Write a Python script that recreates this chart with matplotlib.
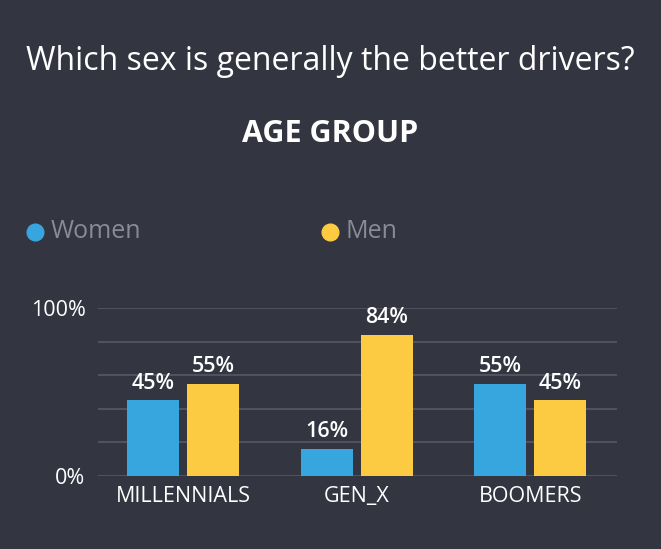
import matplotlib

matplotlib.use("Agg")
import matplotlib.pyplot as plt
import numpy as np

plt.rcParams["font.family"] = ["Open Sans", "DejaVu Sans"]

categories = ["MILLENNIALS", "GEN_X", "BOOMERS"]
women = [45, 16, 55]
men = [55, 84, 45]
series_names = ["Women", "Men"]
y_ticks = [0, 100]
y_tick_labels = ["0%", "100%"]

BG = "#333540"
BLUE = "#38A6DE"
YELLOW = "#FDCB42"
GRID = "#575966"

fig = plt.figure(figsize=(6.61, 5.49), dpi=100, facecolor=BG)
ax = fig.add_axes([98 / 661, 1 - 476 / 549, (617 - 98) / 661, (476 - 308) / 549])
ax.set_facecolor(BG)

x = np.arange(len(categories))
offset = 0.173
width = 0.3
for vals, color, dx in [(women, BLUE, -offset), (men, YELLOW, offset)]:
    bars = ax.bar(x + dx, vals, width=width, color=color, zorder=3)
    for rect, v in zip(bars, vals):
        ax.text(rect.get_x() + rect.get_width() / 2, v + 4, f"{v}%",
                ha="center", va="bottom", color="white", fontsize=15.5,
                fontweight="semibold")

ax.set_xlim(-0.49, 2.5)
ax.set_ylim(0, 100)
for g in range(0, 101, 20):
    ax.axhline(g, color=GRID, linewidth=1.2, zorder=1)
ax.set_yticks(y_ticks)
ax.set_yticklabels(y_tick_labels)
ax.set_xticks(x)
ax.set_xticklabels(categories)
ax.tick_params(axis="both", length=0, colors="white", labelsize=15.5)
ax.tick_params(axis="y", pad=9)
ax.tick_params(axis="x", pad=7)
for s in ax.spines.values():
    s.set_visible(False)

fig.text(0.5, 1 - 61 / 549, "Which sex is generally the better drivers?",
         ha="center", va="center", color="white", fontsize=23)
fig.text(0.5, 1 - 134 / 549, "AGE GROUP", ha="center", va="center",
         color="white", fontsize=22, fontweight="bold")

for name, color, lx in [(series_names[0], BLUE, 35), (series_names[1], YELLOW, 330)]:
    fig.lines.append(plt.Line2D([lx / 661], [1 - 232 / 549], marker="o",
                                markersize=12, color=color, linestyle="none",
                                transform=fig.transFigure))
    fig.text((lx + 16) / 661, 1 - 232 / 549, name, ha="left", va="center",
             color="#8a8b96", fontsize=18)

fig.savefig("out.png", dpi=100, facecolor=BG)
